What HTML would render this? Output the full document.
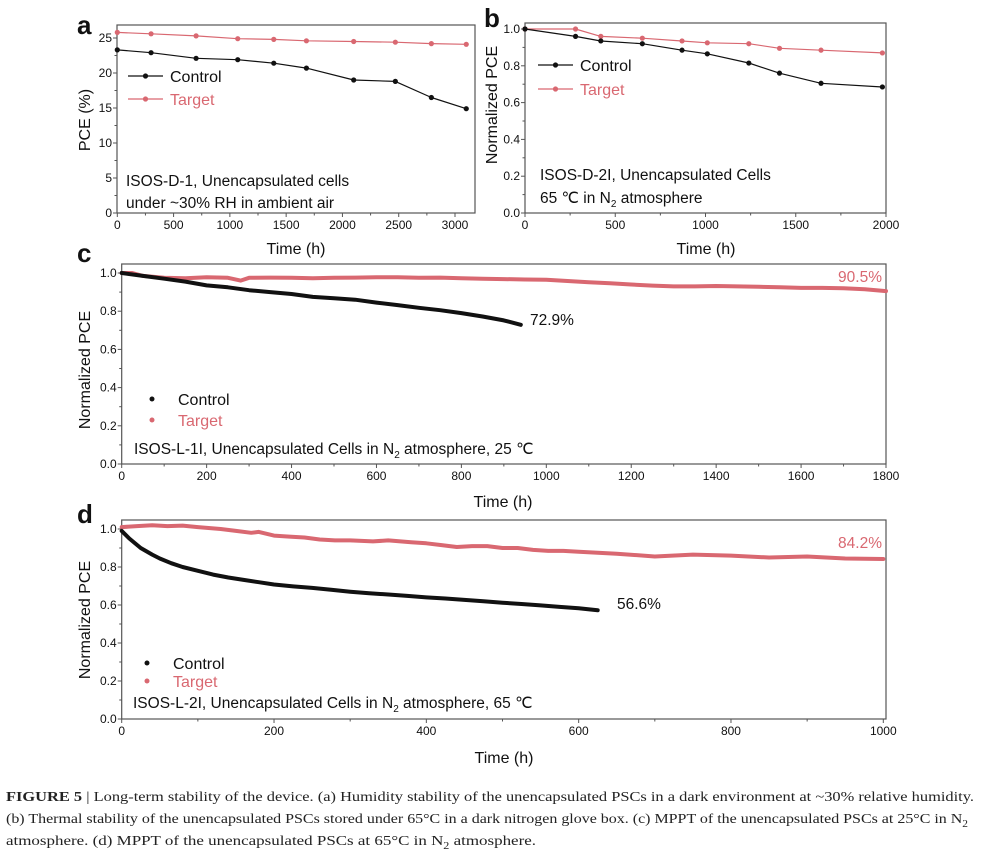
<!DOCTYPE html>
<html><head><meta charset="utf-8"><style>
html,body{margin:0;padding:0;background:#fff;}
svg{display:block;font-family:"Liberation Sans",Arial,sans-serif;}
</style></head><body>
<svg id="fig" width="982" height="853" viewBox="0 0 982 853" xmlns="http://www.w3.org/2000/svg">
<g id="layer"></g>
<g font-family="'Liberation Serif',serif" font-size="14" fill="#222">
<text x="6" y="801" textLength="968" lengthAdjust="spacingAndGlyphs"><tspan font-weight="bold">FIGURE 5</tspan>  |  Long-term stability of the device. (a) Humidity stability of the unencapsulated PSCs in a dark environment at ~30% relative humidity.</text>
<text x="6" y="823" textLength="962" lengthAdjust="spacingAndGlyphs">(b) Thermal stability of the unencapsulated PSCs stored under 65°C in a dark nitrogen glove box. (c) MPPT of the unencapsulated PSCs at 25°C in N<tspan font-size="10" dy="4">2</tspan></text>
<text x="6" y="845" textLength="530" lengthAdjust="spacingAndGlyphs">atmosphere. (d) MPPT of the unencapsulated PSCs at 65°C in N<tspan font-size="10" dy="4">2</tspan><tspan dy="-4"> atmosphere.</tspan></text>
</g>
</svg>
<script>
// Panel a
const aTime=[0,300,700,1070,1390,1680,2100,2470,2790,3100];
const aControl=[23.3,22.9,22.1,21.9,21.4,20.7,19.0,18.8,16.5,14.9];
const aTarget=[25.8,25.6,25.3,24.9,24.8,24.6,24.5,24.4,24.2,24.1];
const aXTicks=[0,500,1000,1500,2000,2500,3000];
const aYTicks=[0,5,10,15,20,25];
// Panel b
const bTime=[0,280,420,650,870,1010,1240,1410,1640,1980];
const bControl=[1.0,0.96,0.935,0.92,0.885,0.865,0.815,0.76,0.705,0.685];
const bTarget=[1.0,1.0,0.96,0.95,0.935,0.925,0.92,0.895,0.885,0.87];
const bXTicks=[0,500,1000,1500,2000];
const normYTicks=[0.0,0.2,0.4,0.6,0.8,1.0];
// Panel c
const cControlTime=[0,50,100,150,200,250,300,350,400,450,500,550,600,650,700,750,800,850,900,940];
const cControl=[1.0,0.985,0.97,0.955,0.935,0.925,0.91,0.9,0.89,0.875,0.868,0.86,0.845,0.832,0.818,0.805,0.79,0.772,0.752,0.729];
const cTargetTime=[0,25,50,100,150,200,250,280,300,350,400,450,500,550,600,650,700,750,800,850,900,950,1000,1050,1100,1150,1200,1250,1300,1350,1400,1450,1500,1550,1600,1650,1700,1750,1800];
const cTarget=[1.0,1.0,0.985,0.975,0.972,0.978,0.975,0.96,0.975,0.976,0.975,0.972,0.975,0.976,0.978,0.978,0.975,0.976,0.972,0.97,0.968,0.966,0.965,0.958,0.952,0.946,0.94,0.934,0.93,0.93,0.932,0.93,0.928,0.925,0.922,0.922,0.92,0.915,0.905];
const cXTicks=[0,200,400,600,800,1000,1200,1400,1600,1800];
// Panel d
const dControlTime=[0,10,25,40,50,65,80,100,120,140,160,180,200,225,250,275,300,325,350,375,400,425,450,475,500,525,550,575,600,625];
const dControl=[0.99,0.95,0.9,0.865,0.845,0.82,0.8,0.78,0.76,0.745,0.732,0.72,0.708,0.698,0.69,0.68,0.67,0.662,0.655,0.648,0.64,0.634,0.627,0.62,0.612,0.605,0.598,0.59,0.583,0.572];
const dTargetTime=[0,20,40,60,80,100,130,150,170,180,200,220,240,260,280,300,330,350,380,400,420,440,460,480,500,520,540,560,580,600,650,700,750,800,850,900,950,1000];
const dTarget=[1.01,1.015,1.02,1.015,1.018,1.01,1.0,0.99,0.98,0.985,0.965,0.96,0.955,0.945,0.94,0.94,0.935,0.94,0.93,0.925,0.915,0.905,0.91,0.91,0.9,0.9,0.89,0.885,0.885,0.88,0.87,0.855,0.865,0.86,0.85,0.855,0.845,0.842];
const dXTicks=[0,200,400,600,800,1000];

const NS="http://www.w3.org/2000/svg";
const layer=document.getElementById('layer');
const RED="#d96871";
function mk(tag,attrs,parent){const e=document.createElementNS(NS,tag);for(const k in attrs)e.setAttribute(k,attrs[k]);(parent||layer).appendChild(e);return e;}
function txt(s,attrs,parent){const e=mk('text',attrs,parent);e.textContent=s;return e;}

function panel(p){
  const g=mk('g',{});
  
  
  const sx=v=>p.x0+(v-p.xmin)/(p.xmax-p.xmin)*(p.x1-p.x0);
  const sy=v=>p.y0-(v-p.ymin)/(p.ymax-p.ymin)*(p.y0-p.y1);
  p.sx=sx;p.sy=sy;
  // frame
  const fr=mk('rect',{x:p.fx0,y:p.fy0,width:p.fx1-p.fx0,height:p.fy1-p.fy0,fill:'none',stroke:'#555','stroke-width':1.2},g);
  
  
  // x ticks
  const xt=p.xticks;
  for(let i=0;i<xt.length;i++){
    const X=sx(xt[i]);
    mk('line',{x1:X,x2:X,y1:p.fy1,y2:p.fy1+4,stroke:'#555','stroke-width':1},g);
    const t=txt(String(xt[i]),{x:X,y:p.fy1+16,'text-anchor':'middle','font-size':12,fill:'#111'},g);
    
    
    if(i<xt.length-1){const m=sx((xt[i]+xt[i+1])/2);mk('line',{x1:m,x2:m,y1:p.fy1,y2:p.fy1+2.5,stroke:'#555','stroke-width':1},g);}
  }
  const yt=p.yticks;
  for(let i=0;i<yt.length;i++){
    const Y=sy(yt[i]);
    mk('line',{x1:p.fx0,x2:p.fx0-4,y1:Y,y2:Y,stroke:'#555','stroke-width':1},g);
    const t=txt(p.yfmt(yt[i]),{x:p.fx0-5,y:Y+4,'text-anchor':'end','font-size':12,fill:'#111'},g);
    
    
    if(i<yt.length-1){const m=sy((yt[i]+yt[i+1])/2);mk('line',{x1:p.fx0,x2:p.fx0-2.5,y1:m,y2:m,stroke:'#555','stroke-width':1},g);}
  }
  const xl=txt('Time (h)',{x:p.xtx,y:p.xty,'text-anchor':'middle','font-size':16,fill:'#111'},g);
  
  
  const yl=txt(p.ytitle,{x:0,y:0,'text-anchor':'middle','font-size':16,fill:'#111',transform:`translate(${p.ytx},${p.yty}) rotate(-90)`},g);
  
  
  const pl=txt(p.letter,{x:p.lx,y:p.ly,'font-size':26,'font-weight':'bold',fill:'#111'},g);
  
  
  return g;
}
function lineSeries(g,p,xs,ys,color,name,markers,width){
  const pts=xs.map((x,i)=>p.sx(x).toFixed(1)+','+p.sy(ys[i]).toFixed(1)).join(' ');
  const l=mk('polyline',{points:pts,fill:'none',stroke:color,'stroke-width':width,'stroke-linejoin':'round','stroke-linecap':'round'},g);
  
  
  if(markers){for(let i=0;i<xs.length;i++){
    const c=mk('circle',{cx:p.sx(xs[i]),cy:p.sy(ys[i]),r:2.6,fill:color},g);
    
    
  }}
}
function legendLine(g,x,y,color,label){
  mk('line',{x1:x,x2:x+35,y1:y,y2:y,stroke:color,'stroke-width':1.2},g);
  mk('circle',{cx:x+17.5,cy:y,r:2.6,fill:color},g);
  const t=txt(label,{x:x+42,y:y+6,'font-size':16,fill:color==='#111'?'#111':RED},g);
  
  
}
function legendDot(g,x,y,color,label){
  mk('circle',{cx:x,cy:y,r:2.5,fill:color},g);
  const t=txt(label,{x:x+26,y:y+6,'font-size':16,fill:color==='#111'?'#111':RED},g);
  
  
}
const f1=v=>v.toFixed(1), f0=v=>String(v);

// a
const pa={name:'panel-a-humidity',x0:117.3,x1:455,xmin:0,xmax:3000,y0:213,y1:38,ymin:0,ymax:25,fx0:117,fx1:475,fy0:25,fy1:213,xticks:aXTicks,yticks:aYTicks,yfmt:f0,xtx:296,xty:254,ytitle:'PCE (%)',ytx:90,yty:120,letter:'a',lx:77,ly:34};
const ga=panel(pa);
lineSeries(ga,pa,aTime,aTarget,RED,'control-a-target',true,1.2);
lineSeries(ga,pa,aTime,aControl,'#111','series-a-control',true,1.2);
legendLine(ga,128,76,'#111','Control');legendLine(ga,128,99,RED,'Target');
txt('ISOS-D-1, Unencapsulated cells',{x:126,y:186,'font-size':15.5,fill:'#111'},ga);
txt('under ~30% RH in ambient air',{x:126,y:208,'font-size':15.5,fill:'#111'},ga);

// b
const pb={name:'panel-b-thermal',x0:525,x1:886,xmin:0,xmax:2000,y0:213,y1:29,ymin:0,ymax:1,fx0:525,fx1:886,fy0:23,fy1:213,xticks:bXTicks,yticks:normYTicks,yfmt:f1,xtx:706,xty:254,ytitle:'Normalized PCE',ytx:497,yty:105,letter:'b',lx:484,ly:27};
const gb=panel(pb);
lineSeries(gb,pb,bTime,bTarget,RED,'series-b-target',true,1.2);
lineSeries(gb,pb,bTime,bControl,'#111','series-b-control',true,1.2);
legendLine(gb,538,65,'#111','Control');legendLine(gb,538,89,RED,'Target');
txt('ISOS-D-2I, Unencapsulated Cells',{x:540,y:180,'font-size':15.5,fill:'#111'},gb);
const tb=txt('65 ℃ in N',{x:540,y:203,'font-size':15.5,fill:'#111'},gb);
const sb=mk('tspan',{'font-size':10,dy:4},tb);sb.textContent='2';
const sb2=mk('tspan',{dy:-4},tb);sb2.textContent=' atmosphere';

// c
const pc={name:'panel-c-mppt-25c',x0:121.7,x1:886,xmin:0,xmax:1800,y0:464,y1:273,ymin:0,ymax:1,fx0:121.7,fx1:886,fy0:264,fy1:464,xticks:cXTicks,yticks:normYTicks,yfmt:f1,xtx:503,xty:507,ytitle:'Normalized PCE',ytx:90,yty:370,letter:'c',lx:77,ly:262};
const gc=panel(pc);
lineSeries(gc,pc,cTargetTime,cTarget,RED,'series-c-target',false,4);
lineSeries(gc,pc,cControlTime,cControl,'#111','series-c-control',false,4);
legendDot(gc,152,399,'#111','Control');legendDot(gc,152,420,RED,'Target');
const tc=txt('ISOS-L-1I, Unencapsulated Cells in N',{x:134,y:454,'font-size':15.5,fill:'#111'},gc);
const sc=mk('tspan',{'font-size':10,dy:4},tc);sc.textContent='2';
const sc2=mk('tspan',{dy:-4},tc);sc2.textContent=' atmosphere, 25 ℃';
txt('72.9%',{x:530,y:325,'font-size':15.5,fill:'#111'},gc);
txt('90.5%',{x:882,y:282,'font-size':15.5,fill:RED,'text-anchor':'end'},gc);

// d
const pd={name:'panel-d-mppt-65c',x0:121.7,x1:883.3,xmin:0,xmax:1000,y0:719,y1:529,ymin:0,ymax:1,fx0:121.7,fx1:886,fy0:520,fy1:719,xticks:dXTicks,yticks:normYTicks,yfmt:f1,xtx:504,xty:763,ytitle:'Normalized PCE',ytx:90,yty:620,letter:'d',lx:77,ly:523};
const gd=panel(pd);
lineSeries(gd,pd,dTargetTime,dTarget,RED,'series-d-target',false,4);
lineSeries(gd,pd,dControlTime,dControl,'#111','series-d-control',false,4);
legendDot(gd,147,663,'#111','Control');legendDot(gd,147,681,RED,'Target');
const td=txt('ISOS-L-2I, Unencapsulated Cells in N',{x:133,y:708,'font-size':15.5,fill:'#111'},gd);
const sd=mk('tspan',{'font-size':10,dy:4},td);sd.textContent='2';
const sd2=mk('tspan',{dy:-4},td);sd2.textContent=' atmosphere, 65 ℃';
txt('56.6%',{x:617,y:609,'font-size':15.5,fill:'#111'},gd);
txt('84.2%',{x:882,y:548,'font-size':15.5,fill:RED,'text-anchor':'end'},gd);
</script>
</body></html>
